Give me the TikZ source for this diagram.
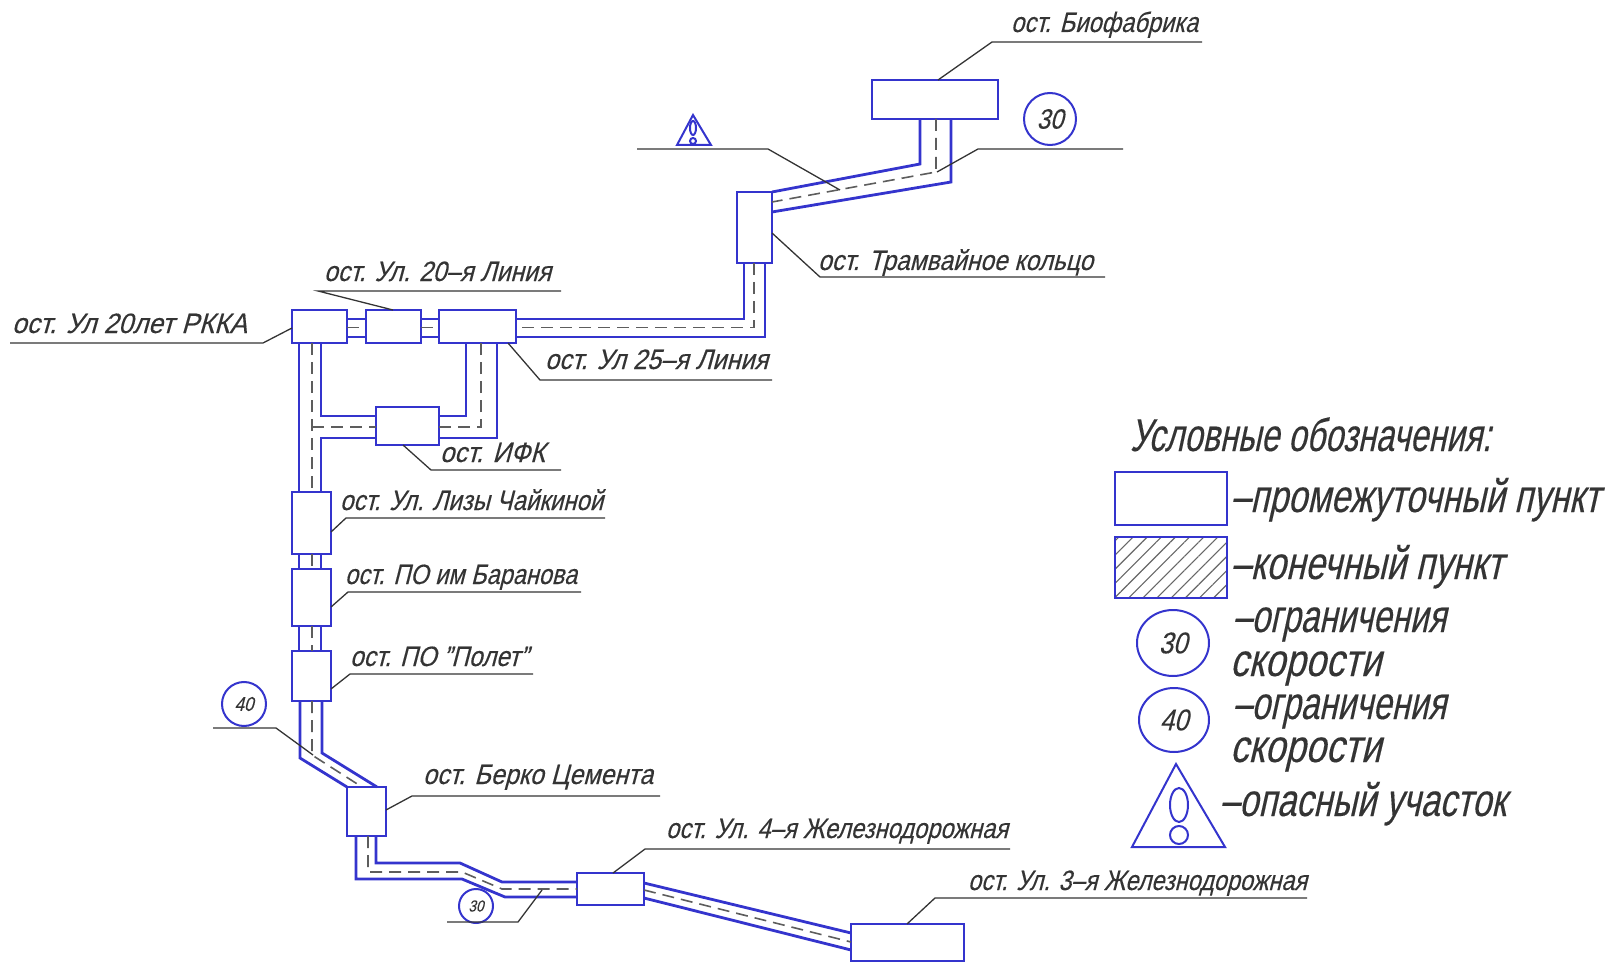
\documentclass[tikz,border=0pt]{standalone}
\usepackage{graphicx}
\usepackage{fontspec}
\setmainfont{Liberation Sans}[FakeSlant=0.3,FakeBold=0.25]
\usetikzlibrary{calc,shapes.geometric,patterns.meta}
\definecolor{roadblue}{RGB}{52,52,205}
\definecolor{inkgrey}{RGB}{52,52,52}
\tikzset{
  stopbox/.style={draw=roadblue,line width=1.3pt,fill=white,inner sep=0pt,outer sep=0pt},
  road/.style={draw=roadblue,line width=1.4pt,line join=miter},
  centreline/.style={draw=inkgrey!80,line width=.8pt,dash pattern=on 6pt off 3.5pt},
  leader/.style={draw=inkgrey,line width=.65pt},
  txt/.style={text=inkgrey,inner sep=0pt,outer sep=0pt,anchor=base west},
  sign/.style={draw=roadblue,line width=1pt,circle,inner sep=0pt,outer sep=0pt,text=inkgrey},
  legsign/.style={draw=roadblue,line width=1pt,ellipse,inner sep=0pt,outer sep=0pt,text=inkgrey},
  warn/.style={draw=roadblue,line width=1pt,line join=miter},
}
\newcommand\StopBox[5]{\node[stopbox,minimum width={(#4-#2)*0.5pt},minimum height={(#5-#3)*0.5pt}] (#1) at ({(#2+#4)/2},{(#3+#5)/2}) {};}
\newcommand\LabelAt[6]{\pgfmathsetlengthmacro\labw{(#3-#2)*0.5pt}\node[txt] (#1) at ({#2-2},{#4-1}) {\fontsize{#5}{#5}\selectfont\resizebox{\labw}{\height}{#6}};}
\newcommand\SignText[2]{\fontsize{#1}{#1}\selectfont\scalebox{.85}[1]{#2}}
\begin{document}
\begin{tikzpicture}[x=0.5pt,y=-0.5pt]
\useasboundingbox (0,0) rectangle (1614,963);
% stops
\StopBox{bio}{872}{80}{998}{119}
\StopBox{tram}{737}{192}{772}{263}
\StopBox{rkka}{292}{310}{347}{343}
\StopBox{lin20}{366}{310}{421}{343}
\StopBox{lin25}{439}{310}{516}{343}
\StopBox{ifk}{376}{407}{439}{445}
\StopBox{liza}{292}{492}{331}{554}
\StopBox{bar}{292}{569}{331}{626}
\StopBox{pol}{292}{651}{331}{701}
\StopBox{berko}{347}{787}{386}{836}
\StopBox{zh4}{577}{873}{644}{905}
\StopBox{zh3}{851}{924}{964}{961}
% roads
\draw[road] (bio.south -| 920,0) -- (920,164) -- (tram.east |- 0,192);
\draw[road] (bio.south -| 951,0) -- (951,182) -- (tram.east |- 0,212);
\draw[centreline] (bio.south -| 936,0) -- (936,172) -- (tram.east |- 0,202);
\draw[road] (tram.south -| 744,0) -- (744,319) -- (lin25.east |- 0,319);
\draw[road] (tram.south -| 765,0) -- (765,337) -- (lin25.east |- 0,337);
\draw[centreline] (tram.south -| 754,0) -- (754,327.5) -- (lin25.east |- 0,327.5);
\draw[road] (rkka.east |- 0,319) -- (lin20.west |- 0,319);
\draw[road] (rkka.east |- 0,337) -- (lin20.west |- 0,337);
\draw[centreline] (rkka.east |- 0,327.5) -- (lin20.west |- 0,327.5);
\draw[road] (lin20.east |- 0,319) -- (lin25.west |- 0,319);
\draw[road] (lin20.east |- 0,337) -- (lin25.west |- 0,337);
\draw[centreline] (lin20.east |- 0,327.5) -- (lin25.west |- 0,327.5);
\draw[road] (rkka.south -| 321,0) -- (321,416) -- (ifk.west |- 0,416);
\draw[centreline] (312,427) -- (ifk.west |- 0,427);
\draw[road] (ifk.west |- 0,438) -- (321,438) -- (liza.north -| 321,0);
\draw[road] (ifk.east |- 0,416) -- (466,416) -- (lin25.south -| 466,0);
\draw[centreline] (ifk.east |- 0,427) -- (481,427) -- (lin25.south -| 481,0);
\draw[road] (ifk.east |- 0,438) -- (497,438) -- (lin25.south -| 497,0);
\draw[road] (rkka.south -| 299,0) -- (liza.north -| 299,0);
\draw[centreline] (rkka.south -| 312,0) -- (liza.north -| 312,0);
\draw[road] (liza.south -| 299,0) -- (bar.north -| 299,0);
\draw[road] (liza.south -| 321,0) -- (bar.north -| 321,0);
\draw[centreline] (liza.south -| 312,0) -- (bar.north -| 312,0);
\draw[road] (bar.south -| 299,0) -- (pol.north -| 299,0);
\draw[road] (bar.south -| 321,0) -- (pol.north -| 321,0);
\draw[centreline] (bar.south -| 312,0) -- (pol.north -| 312,0);
\draw[road] (pol.south -| 300,0) -- (300,758) -- (berko.north west);
\draw[road] (pol.south -| 322,0) -- (322,753) -- (berko.north -| 377,0);
\draw[centreline] (pol.south -| 312,0) -- (312,755) -- (berko.north -| 362,0);
\draw[road] (berko.south -| 356,0) -- (356,879) -- (462,879) -- (505,897) -- (zh4.west |- 0,897);
\draw[road] (berko.south -| 376,0) -- (376,863) -- (460,863) -- (502,882) -- (zh4.west |- 0,882);
\draw[centreline] (berko.south -| 368,0) -- (368,872) -- (462,872) -- (502,889) -- (zh4.west |- 0,889);
\draw[road] (zh4.east |- 0,883) -- (zh3.west |- 0,933);
\draw[road] (zh4.east |- 0,898) -- (zh3.west |- 0,950);
\draw[centreline] (zh4.east |- 0,890) -- (zh3.west |- 0,942);
% signs on the scheme
\node[sign,minimum size=26pt] (sp30top) at (1050,119) {\SignText{14}{30}};
\node[sign,minimum size=22pt] (sp40) at (244,704) {\SignText{10}{40}};
\node[sign,minimum size=17pt] (sp30low) at (476,906) {\SignText{8}{30}};
\coordinate (wA) at (693,115);
\coordinate (wB) at (711,145);
\coordinate (wC) at (677,145);
\draw[warn] (wA) -- (wB) -- (wC) -- cycle;
\draw[warn] (693,128) ellipse [x radius=3,y radius=7];
\draw[warn] (693,141) circle [radius=3];
% leader lines
\coordinate (eBio) at (1202,42);
\coordinate (eTram) at (1105,277);
\coordinate (eL20) at (561,291);
\coordinate (eRkka) at (10,343);
\coordinate (eL25) at (772,380);
\coordinate (eIfk) at (561,470);
\coordinate (eLiza) at (605,518);
\coordinate (eBar) at (581,592);
\coordinate (ePol) at (533,674);
\coordinate (eBerko) at (660,796);
\coordinate (eZh4) at (1010,849);
\coordinate (eZh3) at (1307,898);
\coordinate (eW) at (637,149);
\coordinate (e30t) at (1123,149);
\coordinate (e40) at (213,728);
\coordinate (e30l) at (447,922);
\draw[leader] (bio.north -| 938,0) -- (992,42) -- (eBio);
\draw[leader] (tram.east |- 0,233) -- (820,277) -- (eTram);
\draw[leader] (lin20.north -| 393,0) -- (318,291) -- (eL20);
\draw[leader] (rkka.west |- 0,328) -- (263,343) -- (eRkka);
\draw[leader] (lin25.south -| 508,0) -- (540,380) -- (eL25);
\draw[leader] (ifk.south -| 403,0) -- (431,470) -- (eIfk);
\draw[leader] (liza.east |- 0,532) -- (346,518) -- (eLiza);
\draw[leader] (bar.east |- 0,607) -- (348,592) -- (eBar);
\draw[leader] (pol.east |- 0,689) -- (350,674) -- (ePol);
\draw[leader] (berko.east |- 0,810) -- (412,796) -- (eBerko);
\draw[leader] (zh4.north -| 613,0) -- (645,849) -- (eZh4);
\draw[leader] (zh3.north -| 907,0) -- (935,898) -- (eZh3);
\draw[leader] (eW) -- (768,149) -- (840,190);
\draw[leader] (e30t) -- (978,149) -- (937,172);
\draw[leader] (e40) -- (276,728) -- (313,755);
\draw[leader] (e30l) -- (518,922) -- (542,890);
% labels
\LabelAt{tBio}{1013}{1200}{33}{14}{ост. Биофабрика}
\LabelAt{tTram}{820}{1095}{271}{14}{ост. Трамвайное кольцо}
\LabelAt{tL20}{326}{553}{282}{14}{ост. Ул. 20–я Линия}
\LabelAt{tRkka}{14}{249}{334}{14}{ост. Ул 20лет РККА}
\LabelAt{tL25}{547}{770}{370}{14}{ост. Ул 25–я Линия}
\LabelAt{tIfk}{442}{547}{463}{14}{ост. ИФК}
\LabelAt{tLiza}{342}{605}{511}{14}{ост. Ул. Лизы Чайкиной}
\LabelAt{tBar}{347}{579}{585}{14}{ост. ПО им Баранова}
\LabelAt{tPol}{352}{530}{667}{14}{ост. ПО "Полет"}
\LabelAt{tBerko}{425}{655}{785}{14}{ост. Берко Цемента}
\LabelAt{tZh4}{668}{1010}{839}{14}{ост. Ул. 4–я Железнодорожная}
\LabelAt{tZh3}{970}{1309}{891}{14}{ост. Ул. 3–я Железнодорожная}
% legend
\LabelAt{tLegend}{1132}{1493}{452}{23}{Условные обозначения:}
\StopBox{legA}{1115}{472}{1227}{525}
\StopBox{legB}{1115}{537}{1227}{598}
\path[pattern={Lines[angle=45,distance=5pt,line width=.55pt]},pattern color=inkgrey!75] (legB.south west) rectangle (legB.north east);
\draw[draw=roadblue,line width=1.3pt] (legB.south west) rectangle (legB.north east);
\node[legsign,minimum width=36pt,minimum height=33pt] (legC) at (1173,643) {\SignText{15}{30}};
\node[legsign,minimum width=35pt,minimum height=32pt] (legD) at (1174,720) {\SignText{15}{40}};
\coordinate (lwA) at (1176,764);
\coordinate (lwB) at (1225,847);
\coordinate (lwC) at (1132,847);
\draw[warn] (lwA) -- (lwB) -- (lwC) -- cycle;
\draw[warn] (1179,805) ellipse [x radius=9,y radius=17];
\draw[warn] (1179,835) circle [radius=9];
\LabelAt{tLa}{1233}{1602}{513}{23}{–промежуточный пункт}
\LabelAt{tLb}{1233}{1505}{580}{23}{–конечный пункт}
\LabelAt{tLc}{1235}{1448}{633}{23}{–ограничения}
\LabelAt{tLc2}{1232}{1383}{677}{23}{скорости}
\LabelAt{tLd}{1235}{1448}{720}{23}{–ограничения}
\LabelAt{tLd2}{1232}{1383}{763}{23}{скорости}
\LabelAt{tLe}{1222}{1508}{817}{23}{–опасный участок}
\end{tikzpicture}
\end{document}
